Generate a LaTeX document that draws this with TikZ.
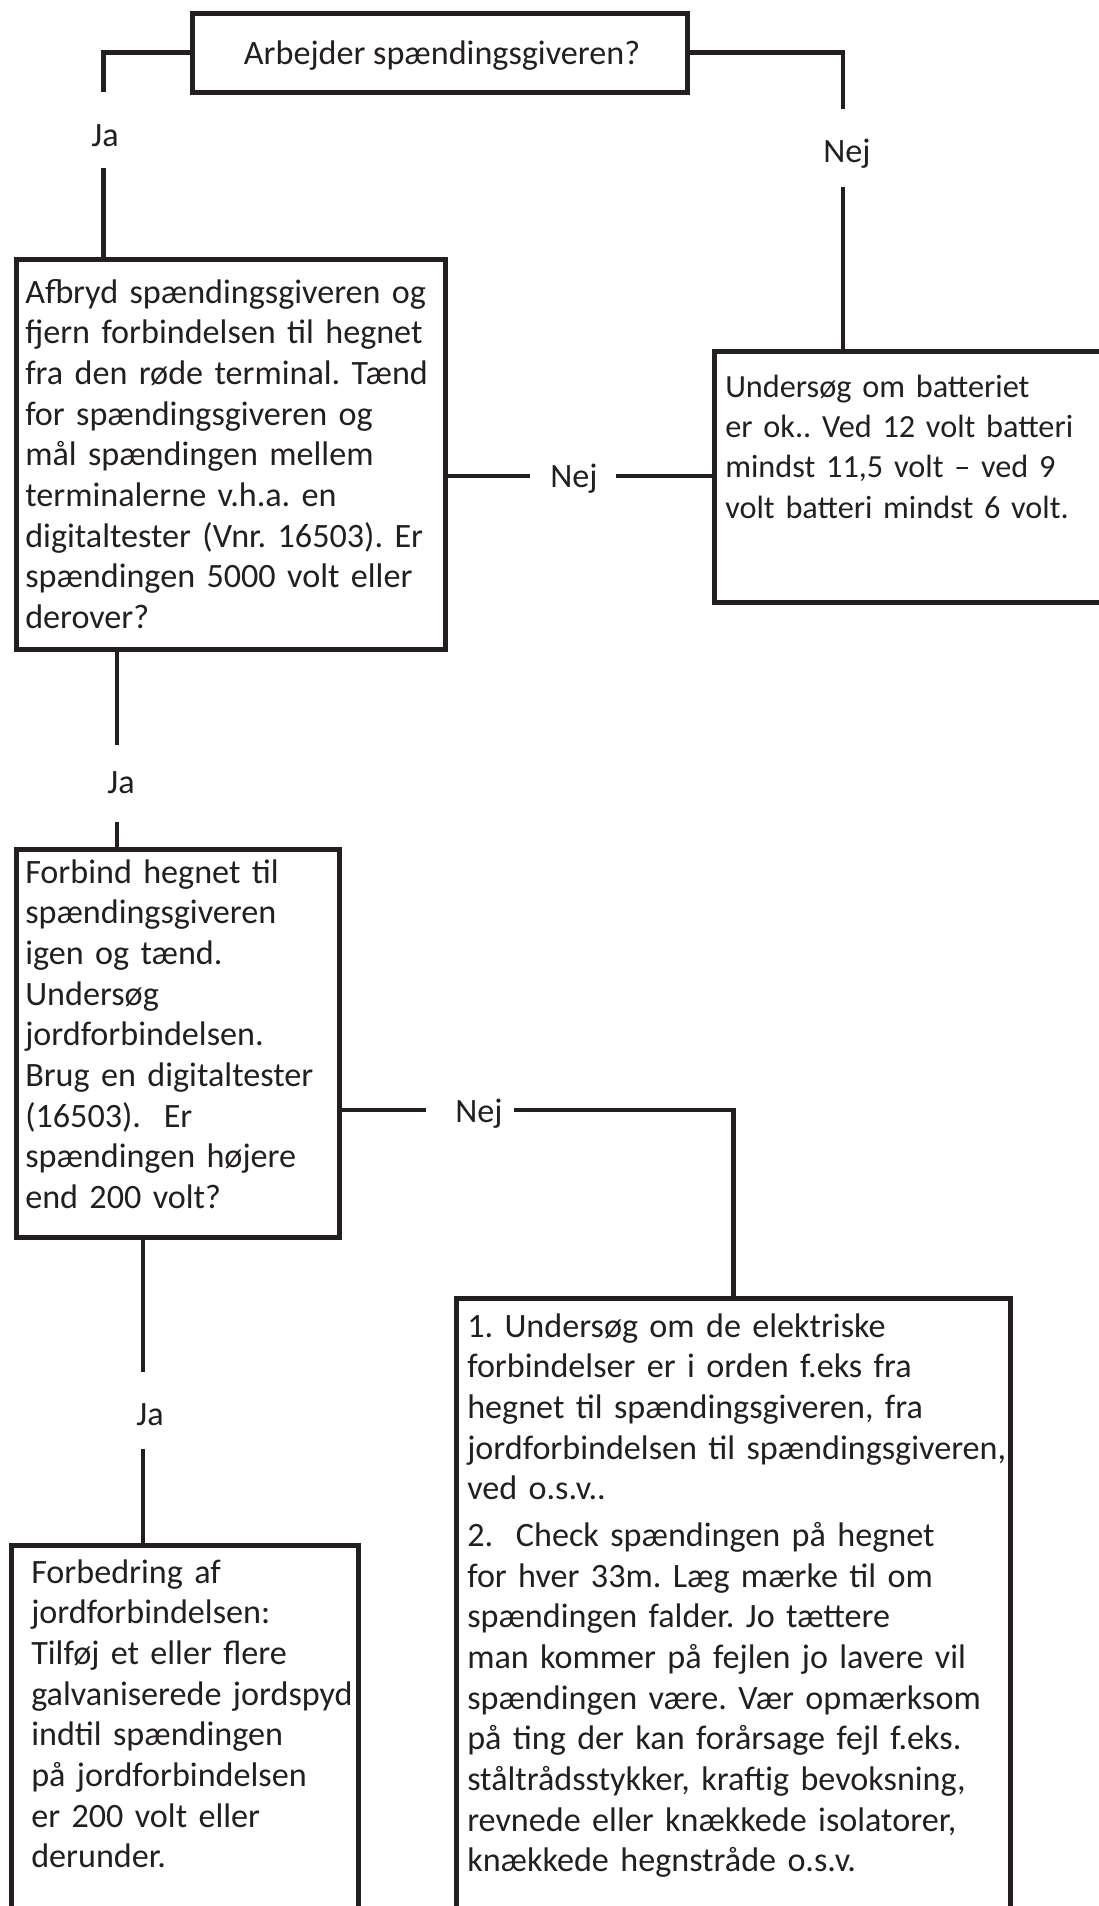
\documentclass[tikz,border=0pt]{standalone}
\usepackage{fontspec}
\setmainfont{Carlito}
\usetikzlibrary{fit}
\definecolor{ink}{HTML}{231F20}
\newcommand{\fcfont}{\fontsize{25.6}{30.5}\selectfont\frenchspacing}
\newcommand{\fcsmall}{\fontsize{24.2}{30.2}\selectfont\frenchspacing}
\newcommand{\firstl}{\rule{0pt}{22pt}}
\begin{document}
\begin{tikzpicture}[x=0.75pt,y=-0.75pt,
  box/.style={draw=ink,line width=3.75pt,inner sep=0pt},
  conn/.style={draw=ink,line width=3.5pt},
  txt/.style={anchor=north west,inner sep=0pt,text width=560pt,align=left,font=\fcfont,text=ink},
  lbl/.style={anchor=base,inner sep=0pt,font=\fcfont,text=ink}]
\useasboundingbox (0,0) rectangle (1099,1906);
\clip (0,0) rectangle (1099,1906);

% boxes
\node[box,fit={(192.5,13.5)(687.5,92)}] (q) {};
\node[lbl] (qt) at (442,64) {Arbejder spændingsgiveren?};

\node[box,fit={(16.5,259.5)(445.5,649.5)}] (b2) {};
\node[txt] (t2) at (25,273.67) {\firstl Afbryd spændingsgiveren og\\
fjern forbindelsen til hegnet\\
fra den røde terminal. Tænd\\
for spændingsgiveren og\\
mål spændingen mellem\\
terminalerne v.h.a. en\\
digitaltester (Vnr. 16503). Er\\
spændingen 5000 volt eller\\
derover?};

\node[box,fit={(714,351)(1115,602)}] (b3) {};
\node[txt,font=\fcsmall] (t3) at (725,367.67) {\firstl Undersøg om batteriet\\
er ok.. Ved 12 volt batteri\\
mindst 11,5 volt – ved 9\\
volt batteri mindst 6 volt.};

\node[box,fit={(16.5,849.5)(339.5,1237.5)}] (b4) {};
\node[txt] (t4) at (25,853.67) {\firstl Forbind hegnet til\\
spændingsgiveren\\
igen og tænd.\\
Undersøg\\
jordforbindelsen.\\
Brug en digitaltester\\
(16503).\ \ Er\\
spændingen højere\\
end 200 volt?};

\node[box,fit={(11,1545.5)(358,1930)}] (b5) {};
\node[txt] (t5) at (31,1553.67) {\firstl Forbedring af\\
jordforbindelsen:\\
Tilføj et eller flere\\
galvaniserede jordspyd\\
indtil spændingen\\
på jordforbindelsen\\
er 200 volt eller\\
derunder.};

\node[box,fit={(456.5,1298)(1010.5,1930)}] (b6) {};
\node[txt] (t6) at (467,1307.67) {\firstl 1. Undersøg om de elektriske\\
forbindelser er i orden f.eks fra\\
hegnet til spændingsgiveren, fra\\
jordforbindelsen til spændingsgiveren,\\
ved o.s.v..\\[4.5pt]
2.\ \ Check spændingen på hegnet\\
for hver 33m. Læg mærke til om\\
spændingen falder. Jo tættere\\
man kommer på fejlen jo lavere vil\\
spændingen være. Vær opmærksom\\
på ting der kan forårsage fejl f.eks.\\
ståltrådsstykker, kraftig bevoksning,\\
revnede eller knækkede isolatorer,\\
knækkede hegnstråde o.s.v.};

% labels
\node[lbl] (ja1) at (105,146) {Ja};
\node[lbl] (nej1) at (847,162) {Nej};
\node[lbl] (nej2) at (574,487) {Nej};
\node[lbl] (ja2) at (121,793) {Ja};
\node[lbl] (nej3) at (479,1122) {Nej};
\node[lbl] (ja3) at (150,1425) {Ja};

% connectors
\coordinate (a1) at (103.5,92);
\coordinate (a2) at (103.5,168);
\draw[conn] (q.west) -| (a1);
\draw[conn] (a2) -- (a2 |- b2.north);

\coordinate (r1) at (843,109);
\coordinate (r2) at (843,187);
\draw[conn] (q.east) -| (r1);
\draw[conn] (r2) -- (r2 |- b3.north);

\coordinate (m1) at (530,476);
\coordinate (m2) at (616,476);
\draw[conn] (b2.east |- m1) -- (m1);
\draw[conn] (m2) -- (m2 -| b3.west);

\coordinate (a3) at (117,745);
\coordinate (a4) at (117,822);
\draw[conn] (b2.south -| a3) -- (a3);
\draw[conn] (a4) -- (a4 |- b4.north);

\coordinate (n1) at (426,1110);
\coordinate (n2) at (514,1110);
\draw[conn] (b4.east |- n1) -- (n1);
\draw[conn] (n2) -| (b6.north);

\coordinate (a5) at (143,1372);
\coordinate (a6) at (143,1449);
\draw[conn] (b4.south -| a5) -- (a5);
\draw[conn] (a6) -- (a6 |- b5.north);
\end{tikzpicture}
\end{document}
